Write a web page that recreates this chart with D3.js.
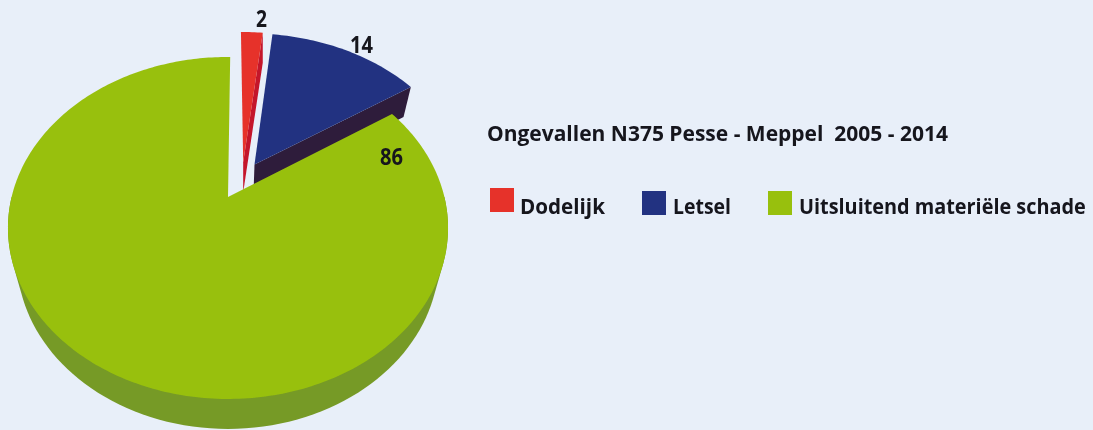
<!DOCTYPE html>
<html>
<head>
<meta charset="utf-8">
<script src="https://cdn.jsdelivr.net/npm/d3@7"></script>
<style>
    html, body { margin: 0; padding: 0; background: #e8eff9; }
    svg { display: block; }
    text { font-family: "Open Sans", sans-serif; font-weight: 700; fill: #14141e; white-space: pre; }
</style>
</head>
<body>
<div id="chart"></div>
<script>
const categories = ['Dodelijk', 'Letsel', 'Uitsluitend materiële schade'];
const accidents = [2, 14, 86];
const chartTitle = 'Ongevallen N375 Pesse - Meppel  2005 - 2014';

const topColors = ['#e6332a', '#213381', '#98c00e'];
const wallColors = ['#c4122a', '#2e1a3a', '#769a26'];

const width = 1093, height = 430;

// perspective disc: k tilts it, a and b are the radii at the centre
const center = { x: 228, y: 197 };
const k = 0.181, a = 216.4, b = 165.4;
const wallDepth = 30, wallShrink = 0.96;

// how far each slice is pulled out, in disc units
const explode = [{ x: 0.073, y: -0.218 }, { x: 0.127, y: -0.204 }, { x: 0, y: 0 }];

const svg = d3.select('#chart')
    .append('svg')
    .attr('width', width)
    .attr('height', height);

// the reference is a soft upscale, so everything gets a slight blur
svg.append('filter')
    .attr('id', 'soft')
    .append('feGaussianBlur')
    .attr('stdDeviation', 0.45);

const root = svg.append('g').attr('filter', 'url(#soft)');

const color = d3.scaleOrdinal().domain(categories).range(topColors);
const wallColor = d3.scaleOrdinal().domain(categories).range(wallColors);

const slices = d3.pie().sort(null)(accidents)
    .map((d, i) => ({ ...d, name: categories[i], off: explode[i] }));

// disc coordinates to screen
function project(x, y) {
    const w = 1 - k * y;
    return [center.x + a * x / w, center.y + b * y / w];
}

function lower(p, shrink = wallShrink) {
    return [center.x + (p[0] - center.x) * shrink, p[1] + wallDepth];
}

// outline of a slice: apex, then along the rim
function outline(d) {
    const steps = Math.max(4, Math.ceil((d.endAngle - d.startAngle) * 60));
    const rim = d3.range(steps + 1).map(i => {
        const t = d.startAngle + (d.endAngle - d.startAngle) * i / steps;
        return project(Math.sin(t) + d.off.x, -Math.cos(t) + d.off.y);
    });
    return [project(d.off.x, d.off.y), ...rim];
}

// squeeze a text into the width it has in the reference
function fitWidth(selection, x, y, targetWidth) {
    selection.each(function (d, i) {
        const scale = targetWidth(d, i) / this.getComputedTextLength();
        d3.select(this)
            .attr('transform', 'translate(' + x(d, i) + ',' + y(d, i) + ') scale(' + scale + ',1)');
    });
}

const line = d3.line().curve(d3.curveLinearClosed);

const red = slices[0], blue = slices[1], green = slices[2];
green.endAngle += 0.012; // the green edge leans a little past twelve o'clock

// green wall: hull of the front half of the rim, top and bottom
const frontRim = d3.range(0, 181, 2).map(deg => {
    const t = deg * Math.PI / 180;
    return project(Math.cos(t), Math.sin(t));
});
root.append('path')
    .attr('d', line(d3.polygonHull([...frontRim, ...frontRim.map(p => lower(p))])))
    .attr('fill', wallColor(green.name));

// cut faces of the pulled out slices, the green top covers what should be hidden
[[red, 1], [blue, wallShrink]].forEach(([d, shrink]) => {
    const pts = outline(d);
    const apex = pts[0], corner = pts[pts.length - 1];
    root.append('path')
        .attr('d', line([apex, corner, lower(corner, shrink), lower(apex, shrink)]))
        .attr('fill', wallColor(d.name));
});

// tops
root.selectAll('.slice')
    .data([red, blue, green])
    .enter()
    .append('path')
    .attr('class', 'slice')
    .attr('d', d => line(outline(d)))
    .attr('fill', d => color(d.name));

// value labels
const labelPos = [[256, 27], [350, 53], [380, 165]];
const labelWidth = [11, 23, 23];
root.selectAll('.value')
    .data(slices)
    .enter()
    .append('text')
    .attr('class', 'value')
    .style('font-size', '23px')
    .text(d => d.value)
    .call(fitWidth, (d, i) => labelPos[i][0], (d, i) => labelPos[i][1], (d, i) => labelWidth[i]);

// title
root.append('text')
    .datum(chartTitle)
    .style('font-size', '22px')
    .text(d => d)
    .call(fitWidth, () => 487, () => 141, () => 461);

// legend
const legendX = [490, 642, 768];
const legendY = [188, 191, 191];
const legendTextX = [520, 673, 799];
const legendTextWidth = [85, 58, 287];

const legend = root.selectAll('.legend')
    .data(categories)
    .enter()
    .append('g')
    .attr('class', 'legend');

legend.append('rect')
    .attr('x', (d, i) => legendX[i])
    .attr('y', (d, i) => legendY[i])
    .attr('width', 24)
    .attr('height', 24)
    .attr('fill', d => color(d));

legend.append('text')
    .style('font-size', '22px')
    .text(d => d)
    .call(fitWidth, (d, i) => legendTextX[i], () => 214, (d, i) => legendTextWidth[i]);
</script>
</body>
</html>
